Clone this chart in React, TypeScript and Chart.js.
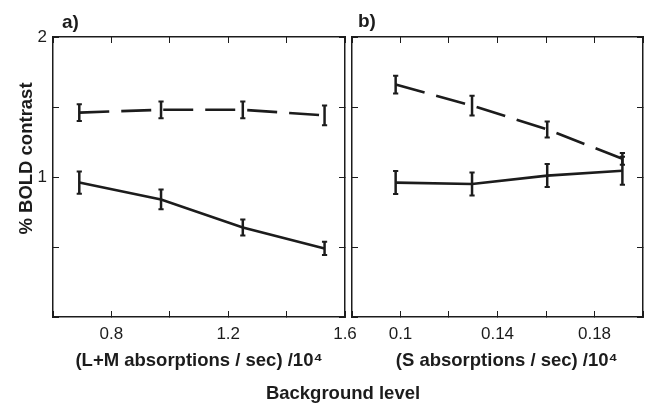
import React, { useEffect, useRef } from 'react';
import { Chart, registerables } from 'chart.js';

Chart.register(...registerables);

const FONT = "'Liberation Sans', Arial, Helvetica, sans-serif";
const INK = '#1c1c1c';

// ---- Panel a: L+M background ----
const lmLevels = [0.69, 0.97, 1.25, 1.53];
const lmDashed = [1.46, 1.48, 1.48, 1.44];
const lmDashedErr = [0.06, 0.06, 0.06, 0.07];
const lmSolid = [0.96, 0.84, 0.64, 0.49];
const lmSolidErr = [0.08, 0.07, 0.057, 0.048];
const lmTickLabels = [0.8, 1.2, 1.6];

// ---- Panel b: S background ----
const sLevels = [0.098, 0.1295, 0.1605, 0.1915];
const sDashed = [1.66, 1.51, 1.34, 1.13];
const sDashedErr = [0.064, 0.071, 0.057, 0.042];
const sSolid = [0.96, 0.95, 1.01, 1.045];
const sSolidErr = [0.082, 0.083, 0.082, 0.1];
const sTickLabels = [0.1, 0.14, 0.18];

const yTickLabels = [1, 2];

const labelFor = (v: number, list: number[]) => {
  const m = list.find((t) => Math.abs(t - v) < 1e-6);
  return m === undefined ? '' : String(m);
};

const errorBarPlugin = {
  id: 'errorBars',
  afterDatasetsDraw(chart: any) {
    const ctx = chart.ctx;
    const xs = chart.scales.x;
    const ys = chart.scales.y;
    chart.data.datasets.forEach((ds: any) => {
      const errs: number[] | undefined = ds.errors;
      if (!errs) return;
      ds.data.forEach((p: any, i: number) => {
        const px = xs.getPixelForValue(p.x);
        const top = ys.getPixelForValue(p.y + errs[i]);
        const bot = ys.getPixelForValue(p.y - errs[i]);
        ctx.save();
        ctx.setLineDash([]);
        ctx.strokeStyle = INK;
        ctx.lineWidth = 2.5;
        ctx.beginPath();
        ctx.moveTo(px, top);
        ctx.lineTo(px, bot);
        ctx.stroke();
        ctx.lineWidth = 2;
        ctx.beginPath();
        ctx.moveTo(px - 2.6, top);
        ctx.lineTo(px + 2.6, top);
        ctx.moveTo(px - 2.6, bot);
        ctx.lineTo(px + 2.6, bot);
        ctx.stroke();
        ctx.restore();
      });
    });
  },
};

type PanelSpec = {
  levels: number[];
  dashed: number[];
  dashedErr: number[];
  solid: number[];
  solidErr: number[];
  xMin: number;
  xMax: number;
  xStep: number;
  xLabels: number[];
  xTitle: string;
  showY: boolean;
  yAxisWidth: number;
  padRight: number;
};

function buildConfig(p: PanelSpec): any {
  const grid = {
    drawOnChartArea: false,
    drawTicks: true,
    tickLength: -6,
    color: INK,
    lineWidth: 1,
  };
  const border = { display: true, color: INK, width: 1.5 };
  const noSidePad = (s: any) => {
    s.paddingLeft = 0;
    s.paddingRight = 0;
  };
  return {
    type: 'line',
    data: {
      datasets: [
        {
          data: p.levels.map((x, i) => ({ x, y: p.dashed[i] })),
          errors: p.dashedErr,
          borderColor: INK,
          borderWidth: 2.6,
          borderDash: [30, 12],
          pointRadius: 0,
          tension: 0,
          fill: false,
        },
        {
          data: p.levels.map((x, i) => ({ x, y: p.solid[i] })),
          errors: p.solidErr,
          borderColor: INK,
          borderWidth: 2.6,
          pointRadius: 0,
          tension: 0,
          fill: false,
        },
      ],
    },
    options: {
      animation: false,
      responsive: false,
      events: [],
      layout: { padding: { top: 37, right: p.padRight, bottom: 0, left: 0 } },
      plugins: { legend: { display: false }, tooltip: { enabled: false }, title: { display: false } },
      scales: {
        x: {
          type: 'linear',
          position: 'bottom',
          min: p.xMin,
          max: p.xMax,
          afterFit: (s: any) => {
            s.height = 87;
            noSidePad(s);
          },
          ticks: {
            stepSize: p.xStep,
            autoSkip: false,
            maxRotation: 0,
            padding: 13,
            color: INK,
            font: { family: FONT, size: 17 },
            callback: (v: number) => labelFor(v, p.xLabels),
          },
          grid,
          border,
          title: {
            display: true,
            text: p.xTitle,
            color: INK,
            font: { family: FONT, size: 18.5, weight: 'bold' },
            padding: { top: 0, bottom: 32 },
          },
        },
        xTop: {
          type: 'linear',
          position: 'top',
          min: p.xMin,
          max: p.xMax,
          afterFit: (s: any) => {
            s.height = 0;
            noSidePad(s);
          },
          ticks: { stepSize: p.xStep, display: false, autoSkip: false },
          grid,
          border,
        },
        y: {
          type: 'linear',
          position: 'left',
          min: 0,
          max: 2,
          afterFit: (s: any) => {
            s.width = p.yAxisWidth;
          },
          ticks: {
            stepSize: 0.5,
            autoSkip: false,
            display: p.showY,
            padding: 12,
            color: INK,
            font: { family: FONT, size: 17 },
            callback: (v: number) => labelFor(v, yTickLabels),
          },
          grid,
          border,
          title: {
            display: p.showY,
            text: '\u2002\u2002\u2002\u2002% BOLD contrast',
            color: INK,
            font: { family: FONT, size: 18.5, weight: 'bold' },
            padding: { top: 16, bottom: 0 },
          },
        },
        yRight: {
          type: 'linear',
          position: 'right',
          min: 0,
          max: 2,
          afterFit: (s: any) => {
            s.width = 0;
          },
          ticks: { stepSize: 0.5, display: false, autoSkip: false },
          grid,
          border,
        },
      },
    },
    plugins: [errorBarPlugin],
  };
}

const panelA: PanelSpec = {
  levels: lmLevels,
  dashed: lmDashed,
  dashedErr: lmDashedErr,
  solid: lmSolid,
  solidErr: lmSolidErr,
  xMin: 0.6,
  xMax: 1.6,
  xStep: 0.2,
  xLabels: lmTickLabels,
  xTitle: '(L+M absorptions / sec) /10\u2074',
  showY: true,
  yAxisWidth: 53,
  padRight: 25,
};

const panelB: PanelSpec = {
  levels: sLevels,
  dashed: sDashed,
  dashedErr: sDashedErr,
  solid: sSolid,
  solidErr: sSolidErr,
  xMin: 0.08,
  xMax: 0.2,
  xStep: 0.02,
  xLabels: sTickLabels,
  xTitle: '\u2002\u2002(S absorptions / sec) /10\u2074',
  showY: false,
  yAxisWidth: 3,
  padRight: 4,
};

const labelStyle: React.CSSProperties = {
  position: 'absolute',
  fontFamily: FONT,
  fontWeight: 'bold',
  color: INK,
  lineHeight: 1,
  whiteSpace: 'nowrap',
};

export default function App() {
  const refA = useRef<HTMLCanvasElement | null>(null);
  const refB = useRef<HTMLCanvasElement | null>(null);

  useEffect(() => {
    if (!refA.current || !refB.current) return;
    const a = new Chart(refA.current, buildConfig(panelA));
    const b = new Chart(refB.current, buildConfig(panelB));
    return () => {
      a.destroy();
      b.destroy();
    };
  }, []);

  return (
    <div
      style={{
        position: 'absolute',
        left: 0,
        top: 0,
        width: 647,
        height: 404,
        background: '#ffffff',
        overflow: 'hidden',
      }}
    >
      <canvas
        ref={refA}
        width={370}
        height={404}
        style={{ position: 'absolute', left: 0, top: 0, width: 370, height: 404 }}
      />
      <canvas
        ref={refB}
        width={298}
        height={404}
        style={{ position: 'absolute', left: 349, top: 0, width: 298, height: 404 }}
      />
      <div style={{ ...labelStyle, left: 62, top: 12, fontSize: 19 }}>a)</div>
      <div style={{ ...labelStyle, left: 358, top: 11, fontSize: 19 }}>b)</div>
      <div style={{ ...labelStyle, left: 243, top: 384, width: 200, textAlign: 'center', fontSize: 18.5 }}>
        Background level
      </div>
    </div>
  );
}
